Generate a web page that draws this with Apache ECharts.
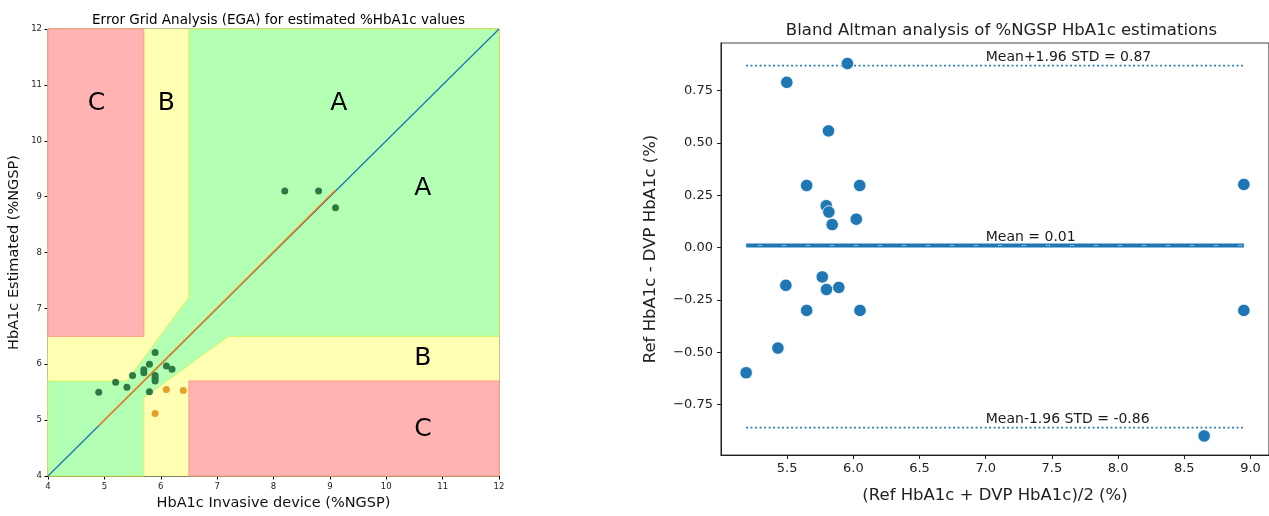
<!DOCTYPE html>
<html>
<head>
<meta charset="utf-8">
<script src="https://cdn.jsdelivr.net/npm/echarts@6/dist/echarts.min.js"></script>
<style>
  html, body { margin: 0; padding: 0; background: #fff; }
  #chart { width: 1269px; height: 516px; }
</style>
</head>
<body>
<div id="chart"></div>
<script>
// EGA: zone A points (reference vs estimated)
const zoneARef = [8.2, 8.8, 9.1, 4.9, 5.2, 5.4, 5.5, 5.7, 5.7, 5.8, 5.9, 5.9, 5.9, 5.9, 5.8, 6.1, 6.2];
const zoneAEst = [9.1, 9.1, 8.8, 5.5, 5.68, 5.59, 5.8, 5.9, 5.85, 6.0, 6.21, 5.8, 5.75, 5.7, 5.51, 5.97, 5.91];
// zone B points
const zoneBRef = [6.1, 6.4, 5.9];
const zoneBEst = [5.55, 5.53, 5.12];

// grid zones (polygons in data units)
const yellowZone = [[4, 4], [12, 4], [12, 12], [4, 12]];
const redZoneTop = [[4, 6.5], [5.7, 6.5], [5.7, 12], [4, 12]];
const redZoneBottom = [[6.5, 4], [12, 4], [12, 5.7], [6.5, 5.7]];
const greenZone = [[4, 4], [5.7, 4], [5.7, 5.4], [7.2, 6.5], [12, 6.5], [12, 12],
    [6.5, 12], [6.5, 7.2], [5.4, 5.7], [4, 5.7]];

const zoneLetters = ['C', 'B', 'A', 'A', 'B', 'C'];
const zoneLetterX = [4.86, 6.1, 9.16, 10.65, 10.65, 10.65];
const zoneLetterY = [10.66, 10.66, 10.66, 9.15, 6.1, 4.84];

const identityLine = [[4, 4], [12, 12]];
const fitLine = [[4.9, 4.9], [9.1, 9.12]];

// Bland Altman
const baMean = [5.497, 5.955, 5.812, 5.647, 6.048, 5.795, 5.815, 6.022, 5.84, 5.765,
    5.49, 5.797, 5.89, 5.647, 6.05, 5.43, 5.19, 8.95, 8.95, 8.65];
const baDiff = [0.79, 0.88, 0.558, 0.297, 0.297, 0.2, 0.17, 0.136, 0.11, -0.14,
    -0.18, -0.2, -0.19, -0.3, -0.3, -0.48, -0.598, 0.302, -0.3, -0.9];
const limitValues = [0.87, 0.01, -0.86];
const limitLabels = ['Mean+1.96 STD = 0.87', 'Mean = 0.01', 'Mean-1.96 STD = -0.86'];
const baXTicks = [5.5, 6.0, 6.5, 7.0, 7.5, 8.0, 8.5, 9.0];
const baYTicks = [-0.75, -0.5, -0.25, 0, 0.25, 0.5, 0.75];

const font = 'DejaVu Sans';
const zones = [yellowZone, redZoneTop, redZoneBottom, greenZone];
const zoneStyles = [
    { fill: '#ffffb3', stroke: '#ffffb3' },
    { fill: '#ffb3b3', stroke: '#ff9a80' },
    { fill: '#ffb3b3', stroke: '#ff9a80' },
    { fill: '#b3ffb3', stroke: '#d0f560' }
];

const baXMin = Math.min(...baMean);
const baXMax = Math.max(...baMean);

var chart = echarts.init(document.getElementById('chart'));

const option = {
    animation: false,
    textStyle: { fontFamily: font },
    title: [
        {
            text: 'Error Grid Analysis (EGA) for estimated %HbA1c values',
            left: 273.5, top: 8, textAlign: 'center',
            textStyle: { fontFamily: font, fontSize: 13.5, fontWeight: 'normal', color: '#000' }
        },
        {
            text: 'Bland Altman analysis of %NGSP HbA1c estimations',
            left: 996.5, top: 17, textAlign: 'center',
            textStyle: { fontFamily: font, fontSize: 16.5, fontWeight: 'normal', color: '#222' }
        }
    ],
    grid: [
        { left: 48, top: 29, width: 451, height: 447, show: true, borderColor: '#000', borderWidth: 1 },
        { left: 721, top: 43, width: 551, height: 412, show: true, borderColor: '#444', borderWidth: 1.2 }
    ],
    xAxis: [
        {
            gridIndex: 0, type: 'value', min: 4, max: 12, interval: 1,
            name: 'HbA1c Invasive device (%NGSP)', nameLocation: 'middle', nameGap: 20,
            nameTextStyle: { fontFamily: font, fontSize: 14.5, color: '#111' },
            axisLine: { onZero: false, lineStyle: { color: '#000' } },
            axisTick: { length: 3.5, lineStyle: { color: '#000' } },
            axisLabel: { fontSize: 8.5, color: '#222', margin: 6 },
            splitLine: { show: false }
        },
        {
            gridIndex: 1, type: 'value', min: 5.0, max: 9.14,
            name: '(Ref HbA1c + DVP HbA1c)/2 (%)', nameLocation: 'middle', nameGap: 32,
            nameTextStyle: { fontFamily: font, fontSize: 16.5, color: '#222' },
            axisLine: { onZero: false, lineStyle: { color: '#222' } },
            axisTick: { length: 4, customValues: baXTicks, lineStyle: { color: '#222' } },
            axisLabel: {
                fontSize: 13, color: '#222', margin: 7, customValues: baXTicks,
                formatter: (v) => v.toFixed(1)
            },
            splitLine: { show: false }
        }
    ],
    yAxis: [
        {
            gridIndex: 0, type: 'value', min: 4, max: 12, interval: 1,
            name: 'HbA1c Estimated (%NGSP)', nameLocation: 'middle', nameGap: 26,
            nameTextStyle: { fontFamily: font, fontSize: 14.5, color: '#111' },
            axisLine: { onZero: false, lineStyle: { color: '#000' } },
            axisTick: { length: 3.5, lineStyle: { color: '#000' } },
            axisLabel: { fontSize: 8.5, color: '#222', margin: 6 },
            splitLine: { show: false }
        },
        {
            gridIndex: 1, type: 'value', min: -0.991, max: 0.978,
            name: 'Ref HbA1c - DVP HbA1c (%)', nameLocation: 'middle', nameGap: 62,
            nameTextStyle: { fontFamily: font, fontSize: 16.5, color: '#222' },
            axisLine: { onZero: false, lineStyle: { color: '#222' } },
            axisTick: { length: 4, customValues: baYTicks, lineStyle: { color: '#222' } },
            axisLabel: {
                fontSize: 13, color: '#222', margin: 8, customValues: baYTicks,
                formatter: (v) => (v < 0 ? '\u2212' + Math.abs(v).toFixed(2) : v.toFixed(2))
            },
            splitLine: { show: false }
        }
    ],
    series: [
        {
            type: 'custom', xAxisIndex: 0, yAxisIndex: 0, z: 1,
            data: zones.map((z) => z[0]),
            renderItem: function (params, api) {
                const pts = zones[params.dataIndex].map((p) => api.coord(p));
                const st = zoneStyles[params.dataIndex];
                return {
                    type: 'polygon',
                    shape: { points: pts },
                    style: { fill: st.fill, stroke: st.stroke, lineWidth: 1 }
                };
            }
        },
        {
            type: 'line', xAxisIndex: 0, yAxisIndex: 0, z: 3, symbol: 'none',
            data: identityLine,
            lineStyle: { color: '#1f77b4', width: 1.3 }
        },
        {
            type: 'line', xAxisIndex: 0, yAxisIndex: 0, z: 4, symbol: 'none',
            data: fitLine,
            lineStyle: { color: '#ff7f0e', width: 1.5 }
        },
        {
            type: 'scatter', xAxisIndex: 0, yAxisIndex: 0, z: 5, symbolSize: 7,
            data: zoneARef.map((x, i) => [x, zoneAEst[i]]),
            itemStyle: { color: '#2f7a43', opacity: 1 }
        },
        {
            type: 'scatter', xAxisIndex: 0, yAxisIndex: 0, z: 5, symbolSize: 7,
            data: zoneBRef.map((x, i) => [x, zoneBEst[i]]),
            itemStyle: { color: '#e6a025', opacity: 1 }
        },
        {
            type: 'scatter', xAxisIndex: 0, yAxisIndex: 0, z: 6, symbolSize: 0,
            data: zoneLetters.map((t, i) => [zoneLetterX[i], zoneLetterY[i], t]),
            itemStyle: { opacity: 1 },
            label: {
                show: true, position: [0, 0], align: 'center', verticalAlign: 'middle',
                formatter: (p) => p.value[2],
                fontFamily: font, fontSize: 25, color: '#000'
            }
        },
        // Bland Altman lines
        {
            type: 'line', xAxisIndex: 1, yAxisIndex: 1, z: 2, symbol: 'none',
            data: [[baXMin, limitValues[0]], [baXMax, limitValues[0]]],
            lineStyle: { color: '#1f77b4', width: 1.8, type: [1.8, 2.7] }
        },
        {
            type: 'line', xAxisIndex: 1, yAxisIndex: 1, z: 2, symbol: 'none',
            data: [[baXMin, limitValues[1]], [baXMax, limitValues[1]]],
            lineStyle: { color: '#1f77b4', width: 4 }
        },
        {
            type: 'line', xAxisIndex: 1, yAxisIndex: 1, z: 2, symbol: 'none',
            data: [[baXMin, limitValues[1]], [baXMax, limitValues[1]]],
            lineStyle: { color: '#ffffff', width: 1, type: [1.2, 1.2, 1.2, 20.4], dashOffset: -12 }
        },
        {
            type: 'line', xAxisIndex: 1, yAxisIndex: 1, z: 2, symbol: 'none',
            data: [[baXMin, limitValues[2]], [baXMax, limitValues[2]]],
            lineStyle: { color: '#1f77b4', width: 1.8, type: [1.8, 2.7] }
        },
        {
            type: 'scatter', xAxisIndex: 1, yAxisIndex: 1, z: 3, symbolSize: 12.5,
            data: baMean.map((x, i) => [x, baDiff[i]]),
            itemStyle: { color: '#1f77b4', borderColor: '#ffffff', borderWidth: 0.8, opacity: 1 }
        },
        {
            type: 'scatter', xAxisIndex: 1, yAxisIndex: 1, z: 4, symbolSize: 0,
            data: limitValues.map((v, i) => [7.0, v, limitLabels[i]]),
            itemStyle: { opacity: 1 },
            label: {
                show: true, position: [0, -1], align: 'left', verticalAlign: 'bottom',
                formatter: (p) => p.value[2],
                fontFamily: font, fontSize: 14, color: '#1a1a1a'
            }
        }
    ]
};
chart.setOption(option);
window.addEventListener('resize', function () {
    chart.resize();
});
</script>
</body>
</html>
